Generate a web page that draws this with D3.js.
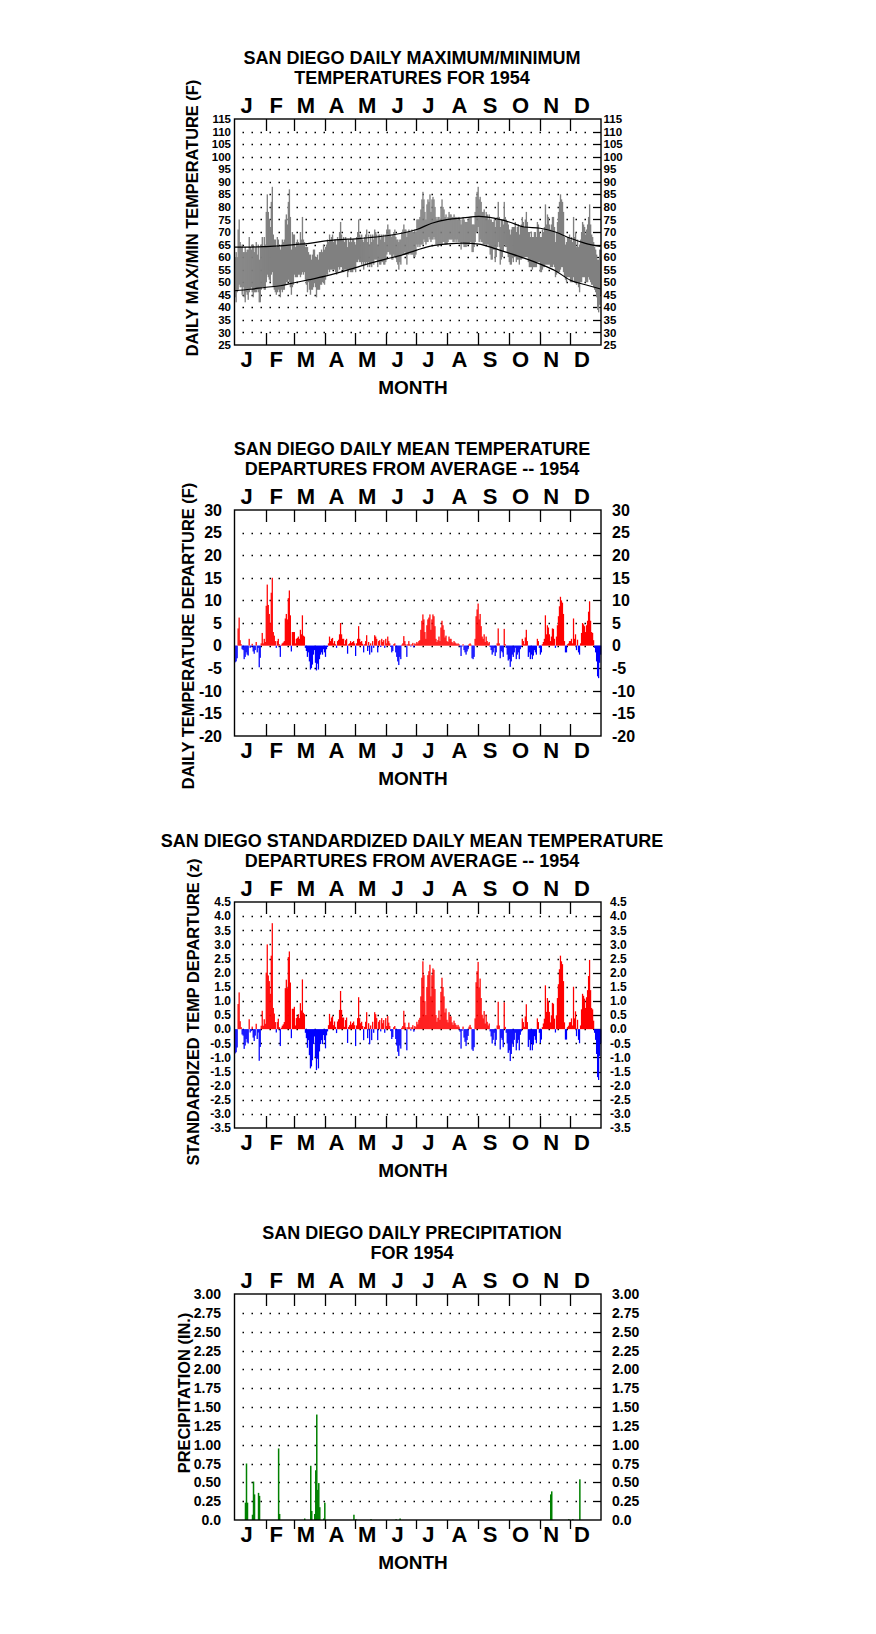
<!DOCTYPE html>
<html><head><meta charset="utf-8">
<script src="https://cdn.jsdelivr.net/npm/d3@7"></script>
<style>body{margin:0;background:#fff;} svg{display:block;}</style>
</head><body>
<script>
// ---------- DATA ----------
const monthLabels = ["J","F","M","A","M","J","J","A","S","O","N","D"];
const monthStarts = [0,31,59,90,120,151,181,212,243,273,304,334,365];

// daily mean temperature departure (F), day 0 = Jan 1
const depValues = [
 -3.7,-3.5,-2.8,3.8,6.2,1.2,0.3,-0.8,-1.0,-3.0,-2.5,-1.5,-2.0,-2.2,1.5,-0.5,-0.3,0.4,-1.3,-1.8,-1.0,0.8,-1.5,-0.5,-4.8,-2.7,0.5,2.8,0.5,1.5,0.8,
 8.8,13.5,9.0,7.0,5.0,11.7,15.0,3.0,2.2,1.0,-0.5,1.0,1.5,0.3,-2.5,0.2,0.5,0.7,1.0,6.0,7.0,5.8,10.5,12.2,6.7,-1.3,3.0,3.0,
 3.0,0.5,1.5,1.7,2.0,1.5,3.5,2.5,6.7,2.2,2.0,-0.5,-1.2,-2.5,-1.5,-3.5,-5.3,-5.0,-4.2,-2.0,-1.0,-3.8,-5.5,-4.0,-5.3,-3.0,-2.0,-1.5,-2.0,-0.8,-1.5,
 -2.5,-0.8,-0.3,0.5,2.0,1.0,1.5,1.7,0.5,1.0,0.3,-0.5,1.0,1.3,2.5,5.0,2.5,1.5,1.5,0.3,1.2,1.5,-1.8,0.3,0.5,1.0,0.6,0.8,1.0,0.5,
 -2.3,0.5,1.5,4.3,1.5,0.8,1.0,0.4,-1.5,0.3,1.0,2.3,-1.2,0.8,-2.0,0.5,-1.5,1.0,-0.5,2.3,2.0,1.5,-1.5,1.0,1.2,-0.3,1.5,0.8,1.2,-0.5,1.5,
 0.5,2.0,1.0,0.5,-0.3,-1.5,-1.2,0.3,0.5,-1.5,-2.5,-3.5,-4.3,-2.5,-3.0,0.2,0.5,2.1,1.0,0.3,-2.5,0.3,1.0,0.3,-0.2,0.3,0.6,-0.4,0.5,0.3,
 0.8,0.5,1.0,1.2,3.5,5.5,6.9,5.8,3.0,1.5,4.5,5.8,6.2,6.9,3.5,5.8,6.9,6.5,4.3,1.5,0.8,1.2,2.0,1.0,4.0,5.5,4.5,3.5,1.8,2.2,1.0,
 0.8,2.0,1.5,1.5,0.8,0.5,1.0,0.7,0.5,0.3,0.5,0.3,-0.3,-2.3,-0.2,0.3,-1.0,-1.5,-2.0,-1.3,-0.8,0.3,0.5,0.2,-2.8,-3.0,-2.5,1.5,6.5,8.0,9.3,
 5.8,7.0,4.3,2.0,1.5,2.5,0.8,2.0,1.0,0.5,0.8,-0.3,-1.0,-2.0,-1.5,-0.5,-2.3,-1.5,0.5,3.8,0.5,-2.8,-1.2,-1.5,-2.5,3.7,0.3,-0.5,-2.0,-3.3,
 -3.0,-4.7,-3.5,-2.0,-2.5,-1.5,-0.5,-3.0,-2.0,-1.5,-3.0,-0.8,-0.3,1.5,1.0,0.3,1.8,3.5,1.0,-2.5,-1.5,-3.0,-2.0,-3.0,-2.2,-1.0,-1.5,-2.0,1.5,1.0,-0.5,
 -2.0,-1.5,0.3,0.8,1.5,6.7,2.5,4.5,4.0,2.5,1.0,2.0,3.8,3.7,1.5,-0.5,2.0,4.5,6.5,8.7,10.8,10.0,9.5,7.0,1.0,-1.5,-1.5,0.3,0.5,1.0,
 1.0,1.5,0.5,6.0,1.5,2.5,-1.0,1.3,-1.5,-2.0,0.5,2.8,5.0,4.7,4.3,3.0,4.5,5.5,7.5,9.8,5.5,3.0,2.8,1.2,-0.5,-1.5,-3.5,-6.8,-7.2,-3.8,-2.0
];

// standardized departure (z)
const zValues = [
 -0.86,-0.82,-0.65,0.89,1.3,0.28,0.07,-0.19,-0.23,-0.7,-0.58,-0.35,-0.47,-0.51,0.35,-0.12,-0.07,0.09,-0.3,-0.42,-0.23,0.19,-0.35,-0.12,-1.12,-0.63,0.12,0.65,0.12,0.35,0.19,
 2.0,3.0,1.9,1.7,1.25,2.6,3.75,0.75,0.55,0.25,-0.12,0.25,0.37,0.07,-0.6,0.05,0.12,0.17,0.25,1.45,1.75,1.45,2.55,2.75,1.65,-0.32,0.72,0.72,
 0.79,0.13,0.39,0.45,0.53,0.39,0.92,0.66,1.76,0.58,0.53,-0.13,-0.32,-0.66,-0.39,-0.92,-1.39,-1.32,-1.1,-0.53,-0.26,-1.0,-1.45,-1.05,-1.39,-0.79,-0.53,-0.39,-0.53,-0.21,-0.39,
 -0.68,-0.22,-0.08,0.14,0.54,0.27,0.41,0.46,0.14,0.27,0.08,-0.14,0.27,0.35,0.68,1.35,0.68,0.41,0.41,0.08,0.32,0.41,-0.49,0.08,0.14,0.27,0.16,0.22,0.27,0.14,
 -0.6,0.13,0.39,1.13,0.39,0.21,0.26,0.11,-0.39,0.08,0.26,0.6,-0.32,0.21,-0.53,0.13,-0.39,0.26,-0.13,0.6,0.53,0.39,-0.39,0.26,0.32,-0.08,0.39,0.21,0.32,-0.13,0.39,
 0.11,0.46,0.23,0.11,-0.07,-0.35,-0.28,0.07,0.11,-0.35,-0.58,-0.8,-0.95,-0.58,-0.69,0.05,0.11,0.65,0.23,0.07,-0.75,0.07,0.23,0.07,-0.05,0.07,0.14,-0.09,0.11,0.07,
 0.26,0.17,0.33,0.4,1.16,1.82,2.4,1.91,0.99,0.5,1.49,1.91,2.05,2.28,1.16,1.91,2.15,2.1,1.42,0.5,0.26,0.4,0.66,0.33,1.32,1.82,1.49,1.16,0.59,0.73,0.33,
 0.24,0.6,0.45,0.45,0.24,0.15,0.3,0.21,0.15,0.09,0.15,0.09,-0.09,-0.69,-0.06,0.09,-0.3,-0.45,-0.6,-0.39,-0.24,0.09,0.15,0.06,-0.72,-0.77,-0.64,0.38,1.66,2.05,2.38,
 1.48,1.79,1.1,0.51,0.38,0.64,0.2,0.51,0.26,0.13,0.2,-0.08,-0.26,-0.51,-0.38,-0.13,-0.59,-0.38,0.13,0.97,0.13,-0.72,-0.31,-0.38,-0.64,0.95,0.08,-0.13,-0.51,-0.84,
 -0.75,-1.13,-0.88,-0.5,-0.63,-0.38,-0.13,-0.75,-0.5,-0.38,-0.75,-0.2,-0.08,0.38,0.25,0.08,0.45,0.88,0.25,-0.63,-0.38,-0.75,-0.5,-0.75,-0.55,-0.25,-0.38,-0.5,0.38,0.25,-0.13,
 -0.49,-0.37,0.07,0.2,0.37,1.55,0.61,1.1,0.98,0.61,0.24,0.49,0.93,0.9,0.37,-0.12,0.49,1.1,1.59,2.12,2.6,2.4,2.3,1.7,0.24,-0.37,-0.37,0.07,0.12,0.24,
 0.25,0.38,0.13,1.5,0.38,0.63,-0.25,0.33,-0.38,-0.5,0.13,0.7,1.25,1.18,1.08,0.75,1.13,1.38,1.88,2.45,1.38,0.75,0.7,0.3,-0.13,-0.38,-0.88,-1.7,-1.8,-0.95,-0.5
];

// daily maximum and minimum temperatures (F)
const tmaxValues = [
 60,62,60,71,75,66,64,65,62,62,64,62,63,63,68,64,63,65,65,62,64,66,61,65,59,64,65,68,64,68,65,
 78,85,78,75,72,82,88,69,67,67,64,68,67,64,63,65,67,66,67,75,77,73,82,87,76,63,70,69,
 69,64,66,67,66,65,70,67,76,67,66,64,64,64,62,61,61,59,61,63,63,60,60,61,59,62,62,63,62,65,63,
 64,65,67,66,69,67,68,69,66,67,67,65,68,67,70,74,69,67,68,66,68,67,64,67,66,68,66,67,67,66,
 65,68,70,75,69,68,69,67,66,68,69,71,66,69,65,69,66,69,67,71,70,69,65,69,69,67,69,68,69,66,69,
 71,73,71,71,69,68,69,70,71,68,67,67,66,67,67,70,71,73,71,71,68,70,71,70,70,71,70,70,71,70,
 75,75,75,76,79,83,86,83,78,75,81,83,82,85,78,83,84,83,80,76,75,76,76,75,80,83,80,79,76,77,75,
 76,78,77,77,76,76,77,76,76,75,76,76,75,73,75,76,75,74,74,74,75,76,76,76,73,73,73,78,84,86,88,
 83,84,82,78,78,79,76,78,77,75,77,75,75,74,74,75,72,75,76,82,76,72,75,75,73,82,76,75,74,73,
 71,69,71,72,72,72,74,70,72,73,69,72,73,76,74,72,75,78,74,70,70,68,70,68,68,70,70,68,74,73,70,
 68,68,71,70,72,81,73,77,76,73,71,73,76,76,72,66,70,74,78,82,85,83,82,78,68,65,66,68,68,69,
 67,68,66,76,68,70,64,67,64,65,67,70,74,73,72,69,71,73,76,81,73,69,68,66,64,63,61,59,59,63,63
];
const tminValues = [
 44,42,46,47,49,48,48,45,48,44,42,46,45,43,46,47,48,46,44,46,46,46,47,46,42,42,47,48,48,47,47,
 50,53,52,51,50,53,54,48,47,46,45,46,47,46,44,47,46,47,47,49,50,50,51,50,48,45,48,49,
 53,52,52,52,53,53,52,53,54,53,54,51,49,46,50,47,45,47,47,48,50,48,44,47,47,47,49,49,50,50,49,
 51,53,53,55,54,55,55,55,55,55,54,53,54,56,55,56,56,55,54,55,55,55,52,54,55,54,54,54,55,55,
 54,58,58,59,58,58,57,58,55,58,57,58,56,58,56,57,56,58,57,59,59,59,56,58,57,57,58,58,57,57,58,
 61,62,62,61,61,59,59,61,60,60,58,57,55,58,57,61,61,61,62,61,57,61,61,62,61,61,61,60,60,61,
 65,64,65,64,65,65,65,67,66,65,66,66,68,67,66,67,67,68,67,65,65,64,65,65,65,65,66,66,65,65,65,
 66,67,67,67,67,66,66,67,66,67,66,66,66,63,66,65,64,64,64,65,65,65,66,66,62,62,64,66,70,70,72,
 66,67,66,66,65,65,65,65,65,65,64,61,59,59,63,63,58,60,64,66,64,57,59,60,62,65,64,64,62,60,
 58,57,57,60,58,60,60,58,59,59,57,59,59,60,60,60,60,60,60,58,56,56,56,55,56,56,56,56,58,58,58,
 54,54,55,56,56,57,57,57,57,57,56,56,56,57,56,52,53,54,54,54,55,56,56,54,52,51,50,52,52,52,
 50,50,50,52,50,50,49,50,48,46,50,50,52,52,52,50,50,50,52,51,50,49,49,48,47,46,44,39,38,41,45
];

// normal (average) max / min curves
const normDays = [0,15,31,45,59,74,90,105,120,135,151,166,181,196,212,227,243,258,273,288,304,319,334,349,364];
const normMaxValues = [64,64,64.2,64.5,65,65.5,66.5,67,67.3,67.8,68.5,69.5,71,73.5,75,75.6,76.2,75.5,74,72,71.5,70,67.5,65.5,64.3];
const normMinValues = [46.6,47.2,48,48.6,49.8,51,52.4,54,55.8,57.6,59.3,60.8,62.8,64.5,65.3,65.6,65.2,63.5,61.6,59.6,57.2,54.6,50.8,49,47.3];

// precipitation (inches) on days with rain
const precipDays   = [10,11,12,17,18,19,23,24,43,44,69,75,76,79,80,81,82,83,84,88,89,118,120,135,160,164,314,315,332,336,343];
const precipValues = [0.23,0.75,0.23,0.07,0.51,0.34,0.36,0.32,0.95,0.08,0.02,0.72,0.12,0.08,0.66,1.40,0.40,0.49,0.17,0.02,0.23,0.07,0.01,0.01,0.01,0.02,0.34,0.38,0.01,0.01,0.54];

// tick label values
const tempTicks = [25,30,35,40,45,50,55,60,65,70,75,80,85,90,95,100,105,110,115];
const depTicks = [-20,-15,-10,-5,0,5,10,15,20,25,30];
const zTicks = [-3.5,-3.0,-2.5,-2.0,-1.5,-1.0,-0.5,0,0.5,1.0,1.5,2.0,2.5,3.0,3.5,4.0,4.5];
const precipTicks = [0,0.25,0.5,0.75,1.0,1.25,1.5,1.75,2.0,2.25,2.5,2.75,3.0];

// ---------- DRAW ----------
const W = 876, H = 1634;
const FONT = "'Liberation Sans', Arial, Helvetica, sans-serif";
const svg = d3.select("body").append("svg").attr("width", W).attr("height", H)
  .style("font-family", FONT);
svg.append("rect").attr("width", W).attr("height", H).attr("fill", "#fff");

const X0 = 234.5, X1 = 601, PH = 226, TITLE_X = 412;
const x = d3.scaleLinear().domain([0, 365]).range([X0, X1]);

const panels = [
  {top:119, dom:[25,115], ticks:tempTicks, fmt:d=>String(d), fs:11.5, leftX:231, rightX:603.5,
   title:["SAN DIEGO DAILY MAXIMUM/MINIMUM","TEMPERATURES FOR 1954"],
   ylab:"DAILY MAX/MIN TEMPERATURE (F)", ylx:192, yly:218, bottomOut:false},
  {top:510, dom:[-20,30], ticks:depTicks, fmt:d=>String(d), fs:16, leftX:222, rightX:612,
   title:["SAN DIEGO DAILY MEAN TEMPERATURE","DEPARTURES FROM AVERAGE -- 1954"],
   ylab:"DAILY TEMPERATURE DEPARTURE (F)", ylx:187.5, yly:636, bottomOut:false},
  {top:902, dom:[-3.5,4.5], ticks:zTicks, fmt:d=>d.toFixed(1), fs:12, leftX:231, rightX:610,
   title:["SAN DIEGO STANDARDIZED DAILY MEAN TEMPERATURE","DEPARTURES FROM AVERAGE -- 1954"],
   ylab:"STANDARDIZED TEMP DEPARTURE (z)", ylx:192.5, yly:1012, bottomOut:false},
  {top:1294, dom:[0,3], ticks:precipTicks, fmt:d=>d===0?"0.0":d.toFixed(2), fs:14, leftX:221, rightX:612,
   title:["SAN DIEGO DAILY PRECIPITATION","FOR 1954"],
   ylab:"PRECIPITATION (IN.)", ylx:183.5, yly:1393, bottomOut:true}
];

function frame(p) {
  const g = svg.append("g");
  const top = p.top, bot = p.top + PH;
  const y = d3.scaleLinear().domain(p.dom).range([bot, top]);
  p.y = y; p.g = g; p.bot = bot;

  p.title.forEach((t, i) => {
    g.append("text").attr("x", TITLE_X).attr("y", top - 55 + i * 19.5)
      .attr("text-anchor", "middle").attr("font-size", 18).attr("font-weight", "bold").text(t);
  });
  monthLabels.forEach((m, i) => {
    const cx = x((monthStarts[i] + monthStarts[i + 1]) / 2) - 3.5;
    g.append("text").attr("x", cx).attr("y", top - 6).attr("text-anchor", "middle")
      .attr("font-size", 22).attr("font-weight", "bold").text(m);
    g.append("text").attr("x", cx).attr("y", bot + 22).attr("text-anchor", "middle")
      .attr("font-size", 22).attr("font-weight", "bold").text(m);
  });
  g.append("text").attr("x", 413).attr("y", bot + 49).attr("text-anchor", "middle")
    .attr("font-size", 19).attr("font-weight", "bold").text("MONTH");
  g.append("text").attr("transform", `translate(${p.ylx},${p.yly}) rotate(-90)`)
    .attr("text-anchor", "middle").attr("dominant-baseline", "central")
    .attr("font-size", 16.4).attr("font-weight", "bold").text(p.ylab);

  const inner = p.ticks.filter(v => v > p.dom[0] && v < p.dom[1]);
  g.selectAll(null).data(inner).enter().append("line")
    .attr("x1", X0 + 8).attr("x2", X1 - 8)
    .attr("y1", d => Math.round(y(d)) + 0.5).attr("y2", d => Math.round(y(d)) + 0.5)
    .attr("stroke", "#000").attr("stroke-width", 1.3).attr("stroke-dasharray", "1.5 7.5");
  g.selectAll(null).data(inner).enter().append("line")
    .attr("x1", X1 - 8).attr("x2", X1)
    .attr("y1", d => Math.round(y(d)) + 0.5).attr("y2", d => Math.round(y(d)) + 0.5)
    .attr("stroke", "#000").attr("stroke-width", 1.3);

  g.selectAll(null).data(p.ticks).enter().append("text")
    .attr("x", p.leftX).attr("y", d => y(d) + p.fs * 0.36).attr("text-anchor", "end")
    .attr("font-size", p.fs).attr("font-weight", "bold").text(p.fmt);
  g.selectAll(null).data(p.ticks).enter().append("text")
    .attr("x", p.rightX).attr("y", d => y(d) + p.fs * 0.36).attr("text-anchor", "start")
    .attr("font-size", p.fs).attr("font-weight", "bold").text(p.fmt);
  return p;
}

function finish(p) {
  const g = p.g, top = p.top, bot = p.bot;
  const bounds = monthStarts.slice(1, 12);
  g.selectAll(null).data(bounds).enter().append("line")
    .attr("x1", d => Math.round(x(d)) + 0.5).attr("x2", d => Math.round(x(d)) + 0.5)
    .attr("y1", top).attr("y2", top + 12).attr("stroke", "#000").attr("stroke-width", 1.3);
  g.selectAll(null).data(bounds).enter().append("line")
    .attr("x1", d => Math.round(x(d)) + 0.5).attr("x2", d => Math.round(x(d)) + 0.5)
    .attr("y1", bot).attr("y2", p.bottomOut ? bot + 9 : bot - 12)
    .attr("stroke", "#000").attr("stroke-width", 1.3);
  g.append("rect").attr("x", X0).attr("y", top).attr("width", X1 - X0).attr("height", PH)
    .attr("fill", "none").attr("stroke", "#000").attr("stroke-width", 1.4);
}

// Panel 1: max/min temps
{
  const p = frame(panels[0]);
  const y = p.y;
  p.g.append("g").selectAll("rect").data(d3.range(tmaxValues.length)).enter().append("rect")
    .attr("x", i => x(i)).attr("width", 1.35)
    .attr("y", i => y(tmaxValues[i])).attr("height", i => y(tminValues[i]) - y(tmaxValues[i]))
    .attr("fill", "#808080");
  const line = d3.line().x((d, i) => x(normDays[i] + 0.5)).curve(d3.curveMonotoneX);
  p.g.append("path").attr("d", line.y(d => y(d))(normMaxValues))
    .attr("fill", "none").attr("stroke", "#000").attr("stroke-width", 1.2);
  p.g.append("path").attr("d", line.y(d => y(d))(normMinValues))
    .attr("fill", "none").attr("stroke", "#000").attr("stroke-width", 1.2);
  finish(p);
}

// Panels 2 & 3: departures
[[panels[1], depValues], [panels[2], zValues]].forEach(([cfg, vals]) => {
  const p = frame(cfg);
  const y = p.y;
  const y0 = y(0);
  p.g.append("g").selectAll("rect").data(d3.range(vals.length).filter(i => vals[i] !== 0)).enter().append("rect")
    .attr("x", i => x(i)).attr("width", i => x(i + 1) - x(i) + 0.25)
    .attr("y", i => vals[i] > 0 ? y(vals[i]) : y0)
    .attr("height", i => Math.abs(y(vals[i]) - y0))
    .attr("fill", i => vals[i] > 0 ? "#ff0000" : "#0000ff");
  finish(p);
});

// Panel 4: precipitation
{
  const p = frame(panels[3]);
  const y = p.y;
  p.g.append("g").selectAll("rect").data(d3.range(precipDays.length)).enter().append("rect")
    .attr("x", i => x(precipDays[i]) + 0.2).attr("width", 1.5)
    .attr("y", i => y(precipValues[i])).attr("height", i => y(0) - y(precipValues[i]))
    .attr("fill", "#008000");
  finish(p);
}
</script>
</body></html>
